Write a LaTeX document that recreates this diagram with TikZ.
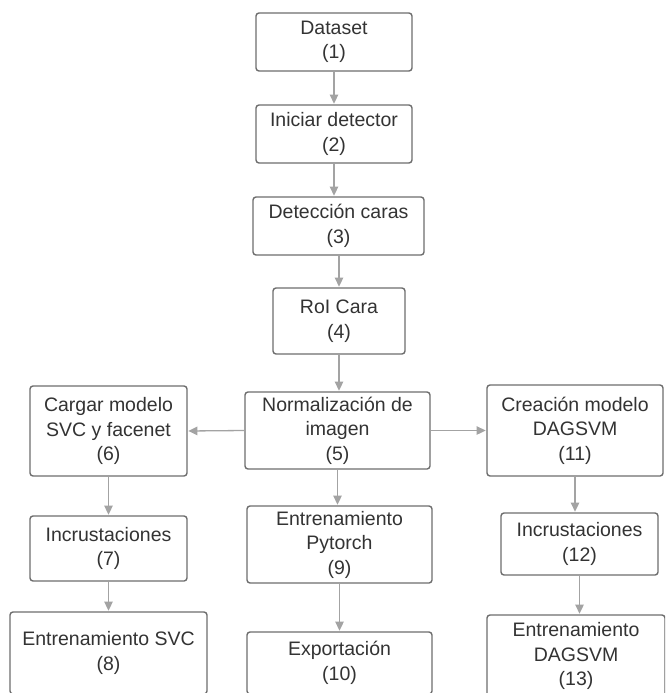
\documentclass[tikz,border=0pt]{standalone}
\usepackage{fontspec}
\setmainfont{Liberation Sans}
\usetikzlibrary{arrows.meta}
\definecolor{boxgray}{HTML}{6E6E6E}
\definecolor{linkgray}{HTML}{A3A3A3}
\definecolor{textgray}{HTML}{333333}
\tikzset{
  stepbox/.style={draw=boxgray, line width=1.4pt, rounded corners=3pt, fill=white,
    align=center, inner sep=0pt, text=textgray,
    font=\fontsize{19.5}{24.5}\selectfont},
  link/.style={draw=linkgray, line width=1.3pt,
    -{Triangle[length=9pt,width=8.5pt]}, shorten >=0.7pt}
}
\begin{document}
\begin{tikzpicture}[x=1pt, y=-1pt]
\path[use as bounding box, clip] (0,0) rectangle (665,693);
\fill[white] (0,0) rectangle (665,693);

% central column
\node[stepbox, minimum width=156pt, minimum height=58pt] (n1) at (334,42) {Dataset\\(1)};
\node[stepbox, minimum width=156pt, minimum height=58pt] (n2) at (334,134) {Iniciar detector\\(2)};
\node[stepbox, minimum width=171pt, minimum height=58pt] (n3) at (338.5,226) {Detección caras\\(3)};
\node[stepbox, minimum width=132pt, minimum height=66pt] (n4) at (339,321) {RoI Cara\\(4)};
\node[stepbox, minimum width=185pt, minimum height=77pt] (n5) at (337.5,430.5) {Normalización de\\imagen\\(5)};
\node[stepbox, minimum width=185pt, minimum height=77pt] (n9) at (339.5,544.5) {Entrenamiento\\Pytorch\\(9)};
\node[stepbox, minimum width=185pt, minimum height=62pt] (n10) at (339.5,663) {Exportación\\(10)};

% left column
\node[stepbox, minimum width=157pt, minimum height=90pt] (n6) at (108.5,431) {Cargar modelo\\SVC y facenet\\(6)};
\node[stepbox, minimum width=157pt, minimum height=65pt] (n7) at (108.5,548.5) {Incrustaciones\\(7)};
\node[stepbox, minimum width=197pt, minimum height=82pt] (n8) at (108.5,653) {Entrenamiento SVC\\(8)};

% right column
\node[stepbox, minimum width=176pt, minimum height=91pt] (n11) at (575,430.5) {Creación modelo\\DAGSVM\\(11)};
\node[stepbox, minimum width=157pt, minimum height=62pt] (n12) at (579.5,544) {Incrustaciones\\(12)};
\node[stepbox, minimum width=178pt, minimum height=82pt] (n13) at (576,656) {Entrenamiento\\DAGSVM\\(13)};

% connectors
\draw[link] (n1.south) -- (n1.south |- n2.north);
\draw[link] (n2.south) -- (n2.south |- n3.north);
\draw[link] (n4.north |- n3.south) -- (n4.north);
\draw[link] (n4.south) -- (n4.south |- n5.north);
\draw[link] (n5.south) -- (n5.south |- n9.north);
\draw[link] (n9.south) -- (n9.south |- n10.north);
\draw[link] (n5.west) -- (n6.east);
\draw[link] (n5.east) -- (n11.west);
\draw[link] (n6.south) -- (n7.north);
\draw[link] (n7.south) -- (n8.north);
\draw[link] (n11.south) -- (n11.south |- n12.north);
\draw[link] (n12.south) -- (n12.south |- n13.north);
\end{tikzpicture}
\end{document}
